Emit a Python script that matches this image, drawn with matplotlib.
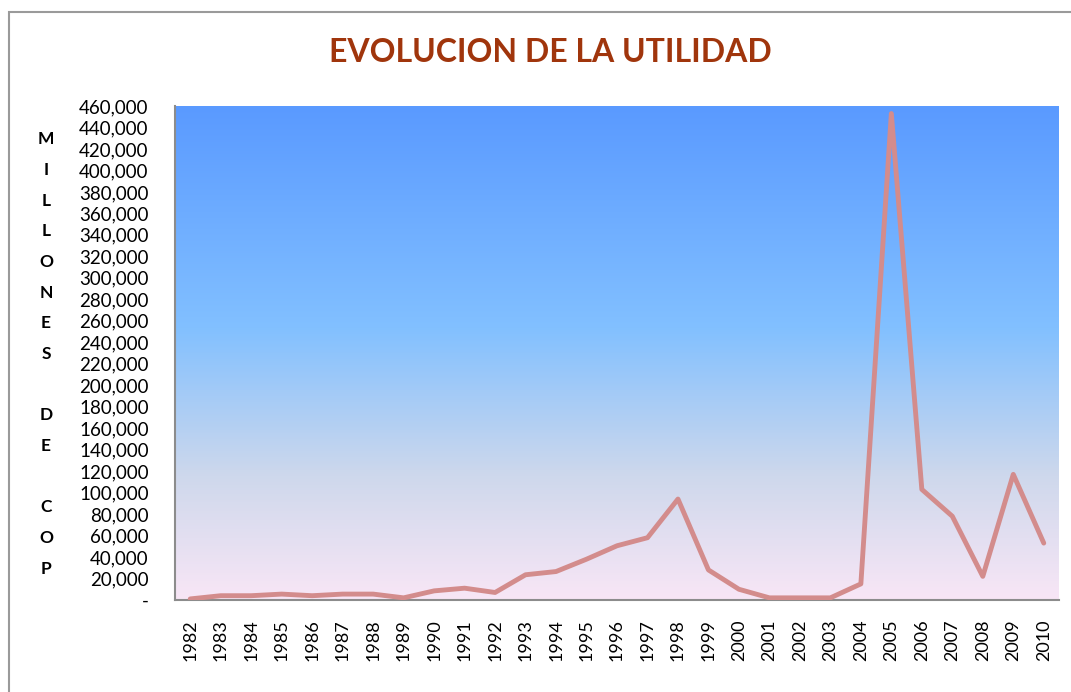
import matplotlib
matplotlib.use("Agg")
import matplotlib.pyplot as plt
import numpy as np
from matplotlib.colors import LinearSegmentedColormap
from matplotlib.ticker import FuncFormatter, MultipleLocator
from matplotlib.patches import Rectangle

years = [str(y) for y in range(1982, 2011)]
utilidad = [1000, 4000, 4000, 5500, 4000, 5500, 5500, 2000, 8500, 11000,
            7000, 23500, 26500, 38000, 50500, 58000, 94000, 28000, 10000, 2000,
            2000, 2000, 15000, 453000, 103000, 78000, 22000, 117000, 53000]

title = "EVOLUCION DE LA UTILIDAD"
ylabel_letters = "M\nI\nL\nL\nO\nN\nE\nS\n\nD\nE\n\nC\nO\nP"

plt.rcParams['font.family'] = ['Lato', 'DejaVu Sans']

W, H = 1071, 692
fig = plt.figure(figsize=(W / 100, H / 100), dpi=100)
fig.patch.set_facecolor('white')

# chart border
fig.patches.append(Rectangle((9 / W, -0.01), 1.1, 1 - 12 / H + 0.01, transform=fig.transFigure,
                             fill=False, edgecolor='#9a9a9a', linewidth=1.5))

ax = fig.add_axes([175 / W, 1 - 600 / H, (1059 - 175) / W, (600 - 106) / H])

# gradient background
cmap = LinearSegmentedColormap.from_list('bg', [
    (0.0, (248/255, 230/255, 246/255)),
    (0.25, (206/255, 216/255, 236/255)),
    (0.55, (130/255, 192/255, 255/255)),
    (1.0, (90/255, 154/255, 255/255)),
])
grad = np.linspace(0, 1, 256).reshape(-1, 1)
ax.imshow(grad, aspect='auto', cmap=cmap, origin='lower',
          extent=[0, 1, 0, 1], transform=ax.transAxes, zorder=0)

x = np.arange(len(years))
ax.plot(x, utilidad, color='#d38c8c', linewidth=3.5, solid_capstyle='round',
        solid_joinstyle='round', zorder=3)

ax.set_xlim(-0.5, len(years) - 0.5)
ax.set_ylim(0, 460000)
ax.yaxis.set_major_locator(MultipleLocator(20000))
ax.yaxis.set_major_formatter(FuncFormatter(lambda v, p: '-' if v == 0 else f'{int(v):,}'))
ax.set_xticks(x)
ax.set_xticklabels(years, rotation=90)
ax.xaxis.set_tick_params(length=0, labelsize=13, pad=14, colors='black')
ax.yaxis.set_tick_params(length=0, labelsize=13.5, pad=19, colors='black')

for side in ['top', 'right']:
    ax.spines[side].set_visible(False)
for side in ['left', 'bottom']:
    ax.spines[side].set_color('#8c8c8c')
    ax.spines[side].set_linewidth(1.5)

fig.text(550 / W, 1 - 52 / H, title, ha='center', va='center', fontsize=23,
         fontweight='bold', color='#a0350c')

fig.text(46 / W, 1 - 354 / H, ylabel_letters, ha='center', va='center', fontsize=12.5,
         fontweight='bold', color='black', linespacing=2.13)

fig.savefig('out.png', dpi=100)
